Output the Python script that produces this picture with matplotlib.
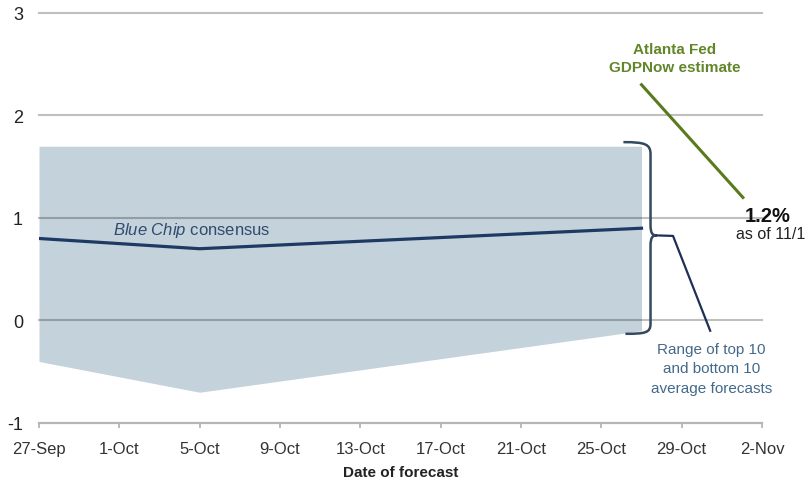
import numpy as np
import matplotlib
matplotlib.use('Agg')
import matplotlib.pyplot as plt
from matplotlib.path import Path
from matplotlib.patches import PathPatch

plt.rcParams['font.family'] = ['Liberation Sans', 'DejaVu Sans']
plt.rcParams['mathtext.fontset'] = 'custom'
plt.rcParams['mathtext.it'] = 'Liberation Sans:italic'
plt.rcParams['mathtext.rm'] = 'Liberation Sans'

# days counted from 27-Sep
dias = [0, 8, 30]
consenso = [0.8, 0.7, 0.9]
rango_sup = [1.7, 1.7, 1.7]
rango_inf = [-0.4, -0.7, -0.1]

ticks_x = np.arange(0, 37, 4)
etiquetas_x = ['27-Sep', '1-Oct', '5-Oct', '9-Oct', '13-Oct', '17-Oct',
               '21-Oct', '25-Oct', '29-Oct', '2-Nov']
ticks_y = [-1, 0, 1, 2, 3]
etiquetas_y = ['-1', '0', '1', '2', '3']
gdpnow = 1.2

#%%
fig = plt.figure(figsize=(8.06, 4.85), dpi=100)
ax = fig.add_axes([0.0484, 0.1258, 0.8970, 0.8454])

ax.fill_between(dias, rango_inf, rango_sup, color='#c4d2db', lw=0, zorder=1)
for yv in ticks_y[1:]:
    ax.axhline(yv, color='k', alpha=0.25, lw=1.5, zorder=2, clip_on=False)
ax.plot(dias, consenso, color='#1e3a64', lw=2.3, zorder=3)

ax.text(3.7, 0.89, r'$\it{Blue\ Chip}$ consensus', fontsize=12,
        color='#2f4b6e', va='center', ha='left', zorder=4)

# llave del rango
llave = Path([(29.1, 1.74), (30.2, 1.74), (30.45, 1.72), (30.45, 1.62),
              (30.45, 0.93),
              (30.45, 0.85), (30.55, 0.83), (30.75, 0.83),
              (30.55, 0.83), (30.45, 0.81), (30.45, 0.73),
              (30.45, -0.03),
              (30.45, -0.12), (30.2, -0.13), (29.2, -0.13)],
             [Path.MOVETO, Path.CURVE4, Path.CURVE4, Path.CURVE4,
              Path.LINETO,
              Path.CURVE4, Path.CURVE4, Path.CURVE4,
              Path.CURVE4, Path.CURVE4, Path.CURVE4,
              Path.LINETO,
              Path.CURVE4, Path.CURVE4, Path.CURVE4])
ax.add_patch(PathPatch(llave, fill=False, ec='#34495e', lw=1.8, zorder=4))
ax.plot([30.75, 31.57, 33.42], [0.83, 0.825, -0.10], color='#1f2f55',
        lw=1.6, zorder=4, clip_on=False)
ax.text(33.47, -0.465, 'Range of top 10\nand bottom 10\naverage forecasts',
        fontsize=11, color='#44698a', ha='center', va='center',
        multialignment='center', linespacing=1.5)

# GDPNow
ax.plot([30.0, 35.05], [2.3, gdpnow], color='#5a7a1e', lw=2.2, zorder=4)
ax.text(31.65, 2.56, 'Atlanta Fed\nGDPNow estimate', fontsize=11,
        fontweight='bold', color='#62862a', ha='center', va='center',
        multialignment='center', linespacing=1.3)
ax.text(36.3, 1.02, '{:.1f}%'.format(gdpnow), fontsize=14.5,
        fontweight='bold', color='#111111', ha='center', va='center')
ax.text(36.45, 0.845, 'as of 11/1', fontsize=11.5, color='#222222',
        ha='center', va='center')

ax.set_xlim(0, 36)
ax.set_ylim(-1, 3)
ax.set_xticks(ticks_x)
ax.set_xticklabels(etiquetas_x)
ax.set_yticks(ticks_y)
ax.set_yticklabels(etiquetas_y)
ax.tick_params(axis='x', length=3.6, width=1.3, color='#b5b5b5',
               labelsize=12, labelcolor='#333333', pad=9.5)
ax.tick_params(axis='y', length=0, labelsize=13, labelcolor='#222222',
               pad=11.5)
for lado in ['top', 'right', 'left']:
    ax.spines[lado].set_visible(False)
ax.spines['bottom'].set_color('#b5b5b5')
ax.spines['bottom'].set_linewidth(1.6)
ax.set_xlabel('Date of forecast', fontsize=11, fontweight='bold',
              color='#222222', labelpad=6)

plt.savefig('out.png', dpi=100)
plt.close()
